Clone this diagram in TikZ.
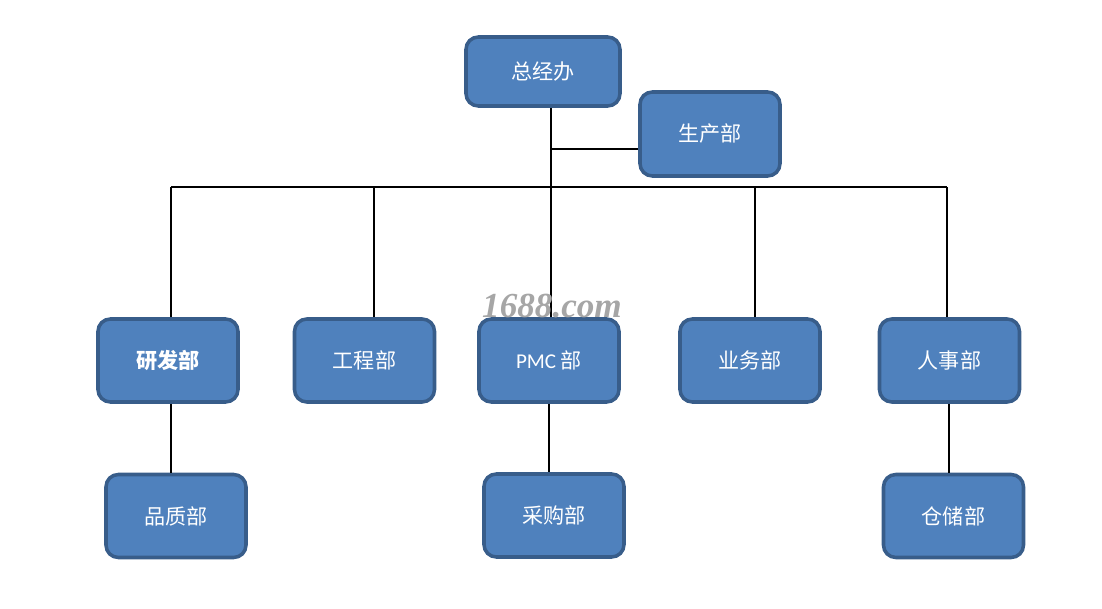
\documentclass[tikz,border=0pt]{standalone}
\usepackage{fontspec}
\setmainfont{Noto Sans CJK SC}
\newfontfamily\latinfont{Carlito}
\newfontfamily\markfont{Liberation Serif}
\usetikzlibrary{positioning,calc}
\definecolor{boxblue}{HTML}{4F81BD}
\definecolor{boxedge}{HTML}{385D8A}
\definecolor{markgray}{HTML}{A6A6A6}
\tikzset{
  dept/.style={rectangle,rounded corners=3.5pt,draw=boxedge,line width=1pt,fill=boxblue,align=center,text=white,font=\fontsize{6}{7}\selectfont,minimum width=1.40cm,minimum height=0.83cm,inner sep=0pt},
  link/.style={black,line width=0.6pt}
}
\begin{document}
\begin{tikzpicture}
  \useasboundingbox (0,0) rectangle (11.02,6.09);
  % top level
  \node[dept,minimum width=1.54cm,minimum height=0.69cm] (zjb) at (5.43,5.375) {总经办};
  \node[dept,minimum height=0.84cm] (scb) at (7.10,4.75) {生产部};
  % second row
  \node[dept,font=\fontsize{6}{7}\selectfont\bfseries] (yfb) at (1.68,2.485) {研发部};
  \node[dept] (gcb) at (3.645,2.485) {工程部};
  \node[dept] (pmc) at (5.49,2.485) {{\latinfont PMC} 部};
  \node[dept] (ywb) at (7.50,2.485) {业务部};
  \node[dept] (rsb) at (9.495,2.485) {人事部};
  % third row
  \node[dept] (pzb) at (1.76,0.93) {品质部};
  \node[dept] (cgb) at (5.54,0.935) {采购部};
  \node[dept] (ccb) at (9.535,0.93) {仓储部};
  % connectors
  \coordinate (trunk) at (5.51,4.22);
  \coordinate (tee) at (5.51,4.60);
  \coordinate (yfdrop) at ([xshift=0.03cm]yfb.north);
  \coordinate (yflow) at ([xshift=0.03cm]yfb.south);
  \coordinate (rsdrop) at ([xshift=-0.025cm]rsb.north);
  \coordinate (rslow) at ([xshift=-0.005cm]rsb.south);
  \draw[link] (zjb.south -| trunk) -- (trunk);
  \draw[link] (tee) -- (tee -| scb.west);
  \draw[link] (yfdrop |- trunk) -- (rsdrop |- trunk);
  \draw[link] (yfdrop) -- (yfdrop |- trunk);
  \draw[link] ([xshift=0.095cm]gcb.north) -- ([xshift=0.095cm]gcb.north |- trunk);
  \draw[link] (pmc.north -| trunk) -- (trunk);
  \draw[link] ([xshift=0.05cm]ywb.north) -- ([xshift=0.05cm]ywb.north |- trunk);
  \draw[link] (rsdrop) -- (rsdrop |- trunk);
  \draw[link] (yflow) -- (pzb.north -| yflow);
  \draw[link] (pmc.south) -- (cgb.north -| pmc.south);
  \draw[link] (rslow) -- (ccb.north -| rslow);
  % watermark
  \node[text=markgray,font=\markfont\fontsize{10}{11}\selectfont\bfseries\itshape] (mark) at (5.52,3.03) {1688.com};
\end{tikzpicture}
\end{document}
